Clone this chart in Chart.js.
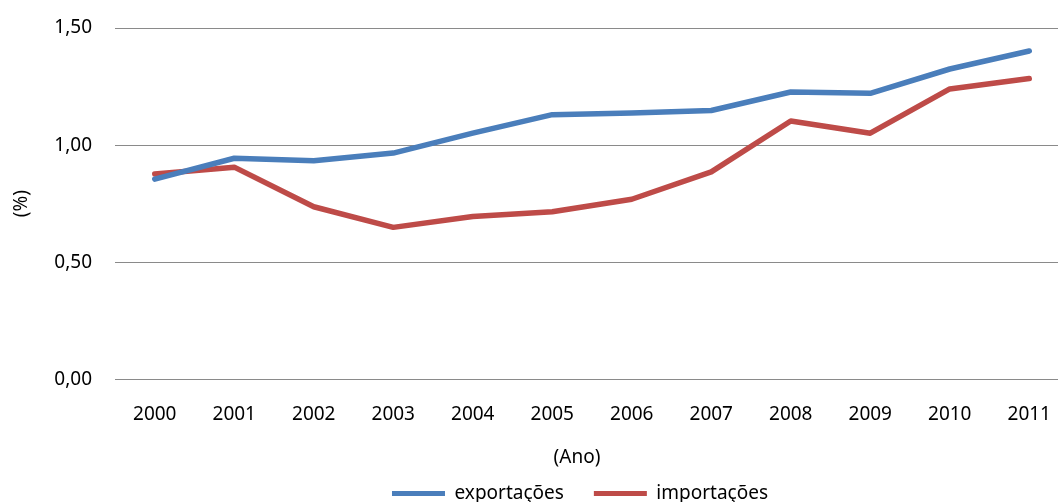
<!DOCTYPE html>
<html>
<head>
<meta charset="utf-8">
<script src="https://cdn.jsdelivr.net/npm/chart.js@4/dist/chart.umd.min.js"></script>
<style>
  html, body { margin: 0; padding: 0; background: #fff; overflow: hidden; }
  #wrap { width: 1058px; height: 502px; overflow: hidden; }
</style>
</head>
<body>
<div id="wrap"><canvas id="c" width="1069" height="513"></canvas></div>
<script>
const categories = ['2000','2001','2002','2003','2004','2005','2006','2007','2008','2009','2010','2011'];
const exportacoes = [0.855, 0.944, 0.933, 0.966, 1.051, 1.130, 1.137, 1.148, 1.227, 1.221, 1.325, 1.402];
const importacoes = [0.877, 0.906, 0.737, 0.649, 0.695, 0.716, 0.769, 0.886, 1.103, 1.051, 1.240, 1.284];
const seriesNames = ['exportações', 'importações'];
const yTicks = [0, 0.5, 1.0, 1.5];
const xTitle = '(Ano)';
const yTitle = '(%)';

const FONT = 'Noto Sans';
const TEXT = '#000000';
const GRID = '#8a8a8a';

// centre the bottom legend and the x-axis title on the whole chart, as in the reference
const centreShift = {
  id: 'centreShift',
  afterLayout(chart) {
    const L = chart.legend;
    if (L) { L.left -= 12; L.right -= 12; }
    const sx = chart.scales.x;
    if (sx && !sx._titlePatched) {
      const orig = sx.drawTitle;
      sx.drawTitle = function () {
        this.left -= 15; this.right -= 15;
        orig.call(this);
        this.left += 15; this.right += 15;
      };
      sx._titlePatched = true;
    }
  }
};

new Chart(document.getElementById('c'), {
  type: 'line',
  data: {
    labels: categories,
    datasets: [
      { label: seriesNames[0], data: exportacoes, borderColor: '#4A7EBB', backgroundColor: '#4A7EBB',
        borderWidth: 5.5, pointRadius: 0, tension: 0, borderCapStyle: 'round', borderJoinStyle: 'round' },
      { label: seriesNames[1], data: importacoes, borderColor: '#BE4B48', backgroundColor: '#BE4B48',
        borderWidth: 5.5, pointRadius: 0, tension: 0, borderCapStyle: 'round', borderJoinStyle: 'round' }
    ]
  },
  plugins: [centreShift],
  options: {
    responsive: false,
    devicePixelRatio: 1,
    animation: false,
    layout: { padding: { top: 28, left: 0, right: 0, bottom: 0 } },
    plugins: {
      tooltip: { enabled: false },
      legend: {
        position: 'bottom',
        fullSize: false,
        labels: {
          color: TEXT,
          font: { family: FONT, size: 19 },
          boxWidth: 53,
          boxHeight: 5,
          padding: 30,
          generateLabels: (chart) => Chart.defaults.plugins.legend.labels.generateLabels(chart).map(l => Object.assign(l, { lineWidth: 0 }))
        }
      }
    },
    scales: {
      x: {
        offset: true,
        afterFit: (s) => { s.paddingLeft = 0; s.paddingRight = 0; },
        grid: { display: false, drawTicks: false },
        border: { display: true, color: GRID, width: 1 },
        ticks: { color: TEXT, font: { family: FONT, size: 19 }, padding: 24, maxRotation: 0 },
        title: { display: true, text: xTitle, color: TEXT, font: { family: FONT, size: 19 }, padding: { top: -4, bottom: -15 } }
      },
      y: {
        min: 0,
        max: 1.5,
        afterFit: (s) => { s.width = 115; s.paddingTop = 0; s.paddingBottom = 0; },
        afterBuildTicks: (s) => { s.ticks = yTicks.map(v => ({ value: v })); },
        grid: { color: GRID, lineWidth: 1, drawTicks: false },
        border: { display: false },
        ticks: { color: TEXT, font: { family: FONT, size: 19 }, padding: 23,
                 callback: (v) => Number(v).toFixed(2).replace('.', ',') },
        title: { display: true, text: yTitle, color: TEXT, font: { family: FONT, size: 19 }, padding: { top: 10, bottom: 4 } }
      }
    }
  }
});
</script>
</body>
</html>
